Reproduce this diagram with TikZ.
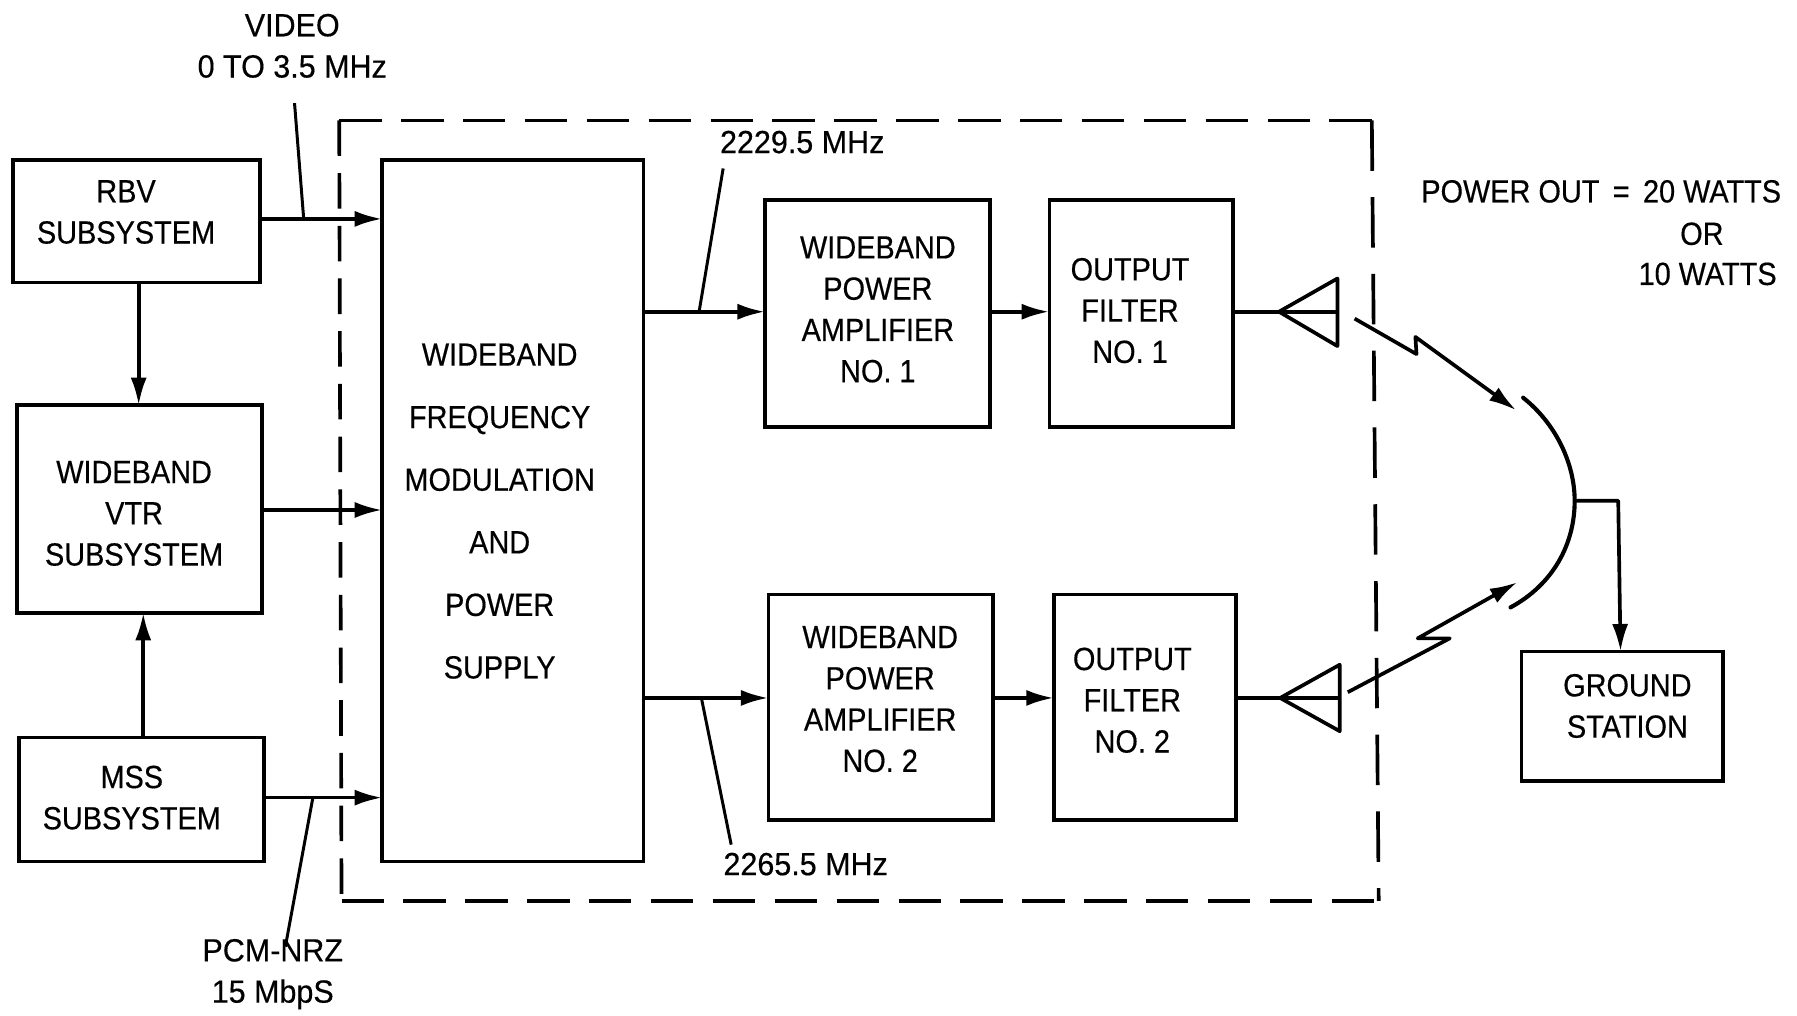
\documentclass[tikz,border=0pt]{standalone}
\usepackage{fontspec}
\setmainfont[FakeStretch=0.9,FakeBold=0.4]{Liberation Sans}
\newfontfamily\widef[FakeStretch=0.95,FakeBold=0.4]{Liberation Sans}
\usetikzlibrary{arrows.meta}
\tikzset{
 blk/.style={draw=black,line width=3.2pt,fill=white,inner sep=0pt,anchor=north west,align=center},
 lbl/.style={inner sep=0pt,align=center,font=\fontsize{28}{36}\selectfont,text=black},
 lbw/.style={lbl,font=\widef\fontsize{28}{36}\selectfont},
 lnk/.style={draw=black,line width=3.2pt},
 arr/.style={lnk,shorten >=-1.5pt,-{Latex[length=24pt,width=14pt]}},
 leader/.style={draw=black,line width=2.6pt},
}
\newcommand{\bx}[5]{\node[blk,minimum width=#3pt,minimum height=#4pt] (#5) at (#1,#2) {};}
\begin{document}
\begin{tikzpicture}[x=1pt,y=-1pt]
\useasboundingbox (0,0) rectangle (1568,886);
\fill[white] (0,0) rectangle (1568,886);
\coordinate (d1) at (296,105);\coordinate (d2) at (1197,105);\coordinate (d3) at (1203,786);\coordinate (d4) at (298,786);
\draw[lnk,dash pattern=on 37pt off 17pt] (d1)--(d2);
\draw[lnk,dash pattern=on 44pt off 23pt] (d2)--(d3);
\draw[lnk,dash pattern=on 37pt off 17pt] (d4)--(d3);
\draw[lnk,dash pattern=on 31pt off 15pt] (d1)--(d4);
\bx{10}{138}{215}{107}{rbv}
\bx{13}{352}{214}{181}{vtr}
\bx{15}{642}{214}{108}{mss}
\bx{332}{138}{228}{612}{mod}
\bx{666}{173}{196}{198}{pa1}
\bx{914}{173}{160}{198}{of1}
\bx{669}{517}{196}{197}{pa2}
\bx{918}{517}{159}{197}{of2}
\bx{1326}{567}{176}{113}{gs}
\node[lbl] (trbv) at (110,185) {RBV\\SUBSYSTEM};
\node[lbl] (tvtr) at (117,448) {WIDEBAND\\VTR\\SUBSYSTEM};
\node[lbl] (tmss) at (115,696) {MSS\\SUBSYSTEM};
\node[lbl,font=\fontsize{28}{54.6}\selectfont] (tmod) at (436,446) {WIDEBAND\\FREQUENCY\\MODULATION\\AND\\POWER\\SUPPLY};
\node[lbl] (tpa1) at (766,270) {WIDEBAND\\POWER\\AMPLIFIER\\NO. 1};
\node[lbl] (tof1) at (986,271) {OUTPUT\\FILTER\\NO. 1};
\node[lbl] (tpa2) at (768,610) {WIDEBAND\\POWER\\AMPLIFIER\\NO. 2};
\node[lbl] (tof2) at (988,611) {OUTPUT\\FILTER\\NO. 2};
\node[lbl] (tgs) at (1420,616) {GROUND\\STATION};
\node[lbw] (tvid) at (255,40) {VIDEO\\0 TO 3.5 MHz};
\node[lbw] (tpcm) at (238,850) {PCM-NRZ\\15 MbpS};
\node[lbw] (t1) at (700,124) {2229.5 MHz};
\node[lbw] (t2) at (703,754) {2265.5 MHz};
\node[lbl,anchor=west] (tp) at (1240,167) {POWER OUT\, =\, 20 WATTS};
\node[lbl] (tp2) at (1485,204) {OR};
\node[lbl] (tp3) at (1490,239) {10 WATTS};
% inputs
\draw[arr] (rbv.east|-0,191) -- (mod.west|-0,191);
\draw[arr] (vtr.east|-0,445) -- (mod.west|-0,445);
\draw[arr] (mss.east|-0,696) -- (mod.west|-0,696);
\draw[arr] (rbv.south-|121,0) -- (vtr.north-|121,0);
\draw[arr] (mss.north-|125,0) -- (vtr.south-|125,0);
% upper chain
\draw[arr] (mod.east|-0,272) -- (pa1.west|-0,272);
\draw[arr] (pa1.east|-0,272) -- (of1.west|-0,272);
\coordinate (a1) at (1116,272);
\draw[lnk] (of1.east|-0,272) -- (a1);
\draw[lnk,line join=round] (1167,243) -- (a1) -- (1167,302) -- cycle;
\draw[lnk] (a1) -- (1167,272);
% lower chain
\draw[arr] (mod.east|-0,609) -- (pa2.west|-0,609);
\draw[arr] (pa2.east|-0,609) -- (of2.west|-0,609);
\coordinate (a2) at (1117,609);
\draw[lnk] (of2.east|-0,609) -- (a2);
\draw[lnk,line join=round] (1169,580) -- (a2) -- (1169,638) -- cycle;
\draw[lnk] (a2) -- (1169,609);
% leaders
\draw[leader] (257,90) -- (265,191);
\draw[leader] (631,147) -- (610,272);
\draw[leader] (612,609) -- (638,737);
\draw[leader] (273,696) -- (249,826);
% links
\coordinate (l1a) at (1182,278);
\coordinate (l1b) at (1236,309);
\coordinate (l1c) at (1235,294);
\coordinate (l1d) at (1323,358);
\coordinate (l2a) at (1176,604);
\coordinate (l2b) at (1265,557);
\coordinate (l2c) at (1237,557);
\coordinate (l2d) at (1324,508);
\draw[arr,shorten >=0pt,line join=round] (l1a) -- (l1b) -- (l1c) -- (l1d);
\draw[arr,shorten >=0pt,line join=round] (l2a) -- (l2b) -- (l2c) -- (l2d);
% dish
\coordinate (dishc) at (1374,437);
\draw[lnk,line width=3.6pt,line cap=round] (1329,347) .. controls (1358,370) and (1374,405) .. (dishc) .. controls (1374,475) and (1355,510) .. (1318,530);
\draw[arr,line join=round] (dishc) -- (1412,437) -- (gs.north-|1414,0);
\end{tikzpicture}
\end{document}
